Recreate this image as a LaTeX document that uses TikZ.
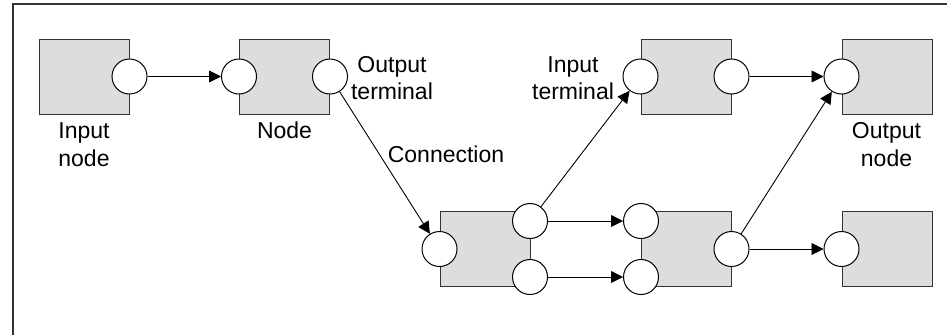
\documentclass[tikz,border=0pt]{standalone}
\usepackage{fontspec}
\setmainfont{Liberation Sans}
\usetikzlibrary{arrows.meta}
\definecolor{boxfill}{HTML}{DDDDDD}
\definecolor{edge}{HTML}{333333}
\tikzset{
  blk/.style={draw=edge, fill=boxfill, line width=1pt, minimum width=90pt, minimum height=75pt, inner sep=0pt},
  term/.style={circle, draw=black, fill=white, line width=1pt, minimum size=35pt, inner sep=0pt},
  conn/.style={draw=black, line width=0.9pt, -{Triangle[length=12pt,width=12pt]}},
  lbl/.style={font=\fontsize{23}{27.5}\selectfont, align=center, anchor=base, inner sep=0pt},
  frame/.style={draw=edge, line width=1.2pt}
}
\begin{document}
\begin{tikzpicture}[x=1pt,y=-1pt]
\useasboundingbox (0,0) rectangle (947,335);
\coordinate (fb) at (13,335);
\coordinate (ft) at (13,4);
\coordinate (fr) at (947,4);
\draw[frame] (fb) -- (ft) -- (fr);
% boxes
\node[blk] (in)  at (84,76.5) {};
\node[blk] (n1)  at (284.5,76.5) {};
\node[blk] (t3)  at (686,76.5) {};
\node[blk] (out) at (887,76.5) {};
\node[blk] (b2)  at (485,249) {};
\node[blk] (b3)  at (686,249) {};
\node[blk] (b4)  at (887,249) {};
% terminals
\node[term] (inR)  at (in.east) {};
\node[term] (n1L)  at (n1.west) {};
\node[term] (n1R)  at (n1.east) {};
\node[term] (t3L)  at (t3.west) {};
\node[term] (t3R)  at (t3.east) {};
\node[term] (outL) at (out.west) {};
\node[term] (b2L)  at (b2.west) {};
\node[term] (b2RT) at (530,221) {};
\node[term] (b2RB) at (530,277) {};
\node[term] (b3LT) at (641,221) {};
\node[term] (b3LB) at (641,277) {};
\node[term] (b3R)  at (b3.east) {};
\node[term] (b4L)  at (b4.west) {};
% connections
\draw[conn] (inR) -- (n1L);
\draw[conn] (n1R) -- (b2L);
\draw[conn] (b2RT) -- (t3L);
\draw[conn] (b2RT) -- (b3LT);
\draw[conn] (b2RB) -- (b3LB);
\draw[conn] (t3R) -- (outL);
\draw[conn] (b3R) -- (outL);
\draw[conn] (b3R) -- (b4L);
% labels (base anchor = baseline of last line)
\node[lbl] (l1) at (84,166) {Input\\node};
\node[lbl] (l2) at (284.5,138) {Node};
\node[lbl] (l3) at (392,99.5) {Output\\terminal};
\node[lbl] (l4) at (446,162) {Connection};
\node[lbl] (l5) at (573,99.5) {Input\\terminal};
\node[lbl] (l6) at (886.5,166) {Output\\node};
\end{tikzpicture}
\end{document}
